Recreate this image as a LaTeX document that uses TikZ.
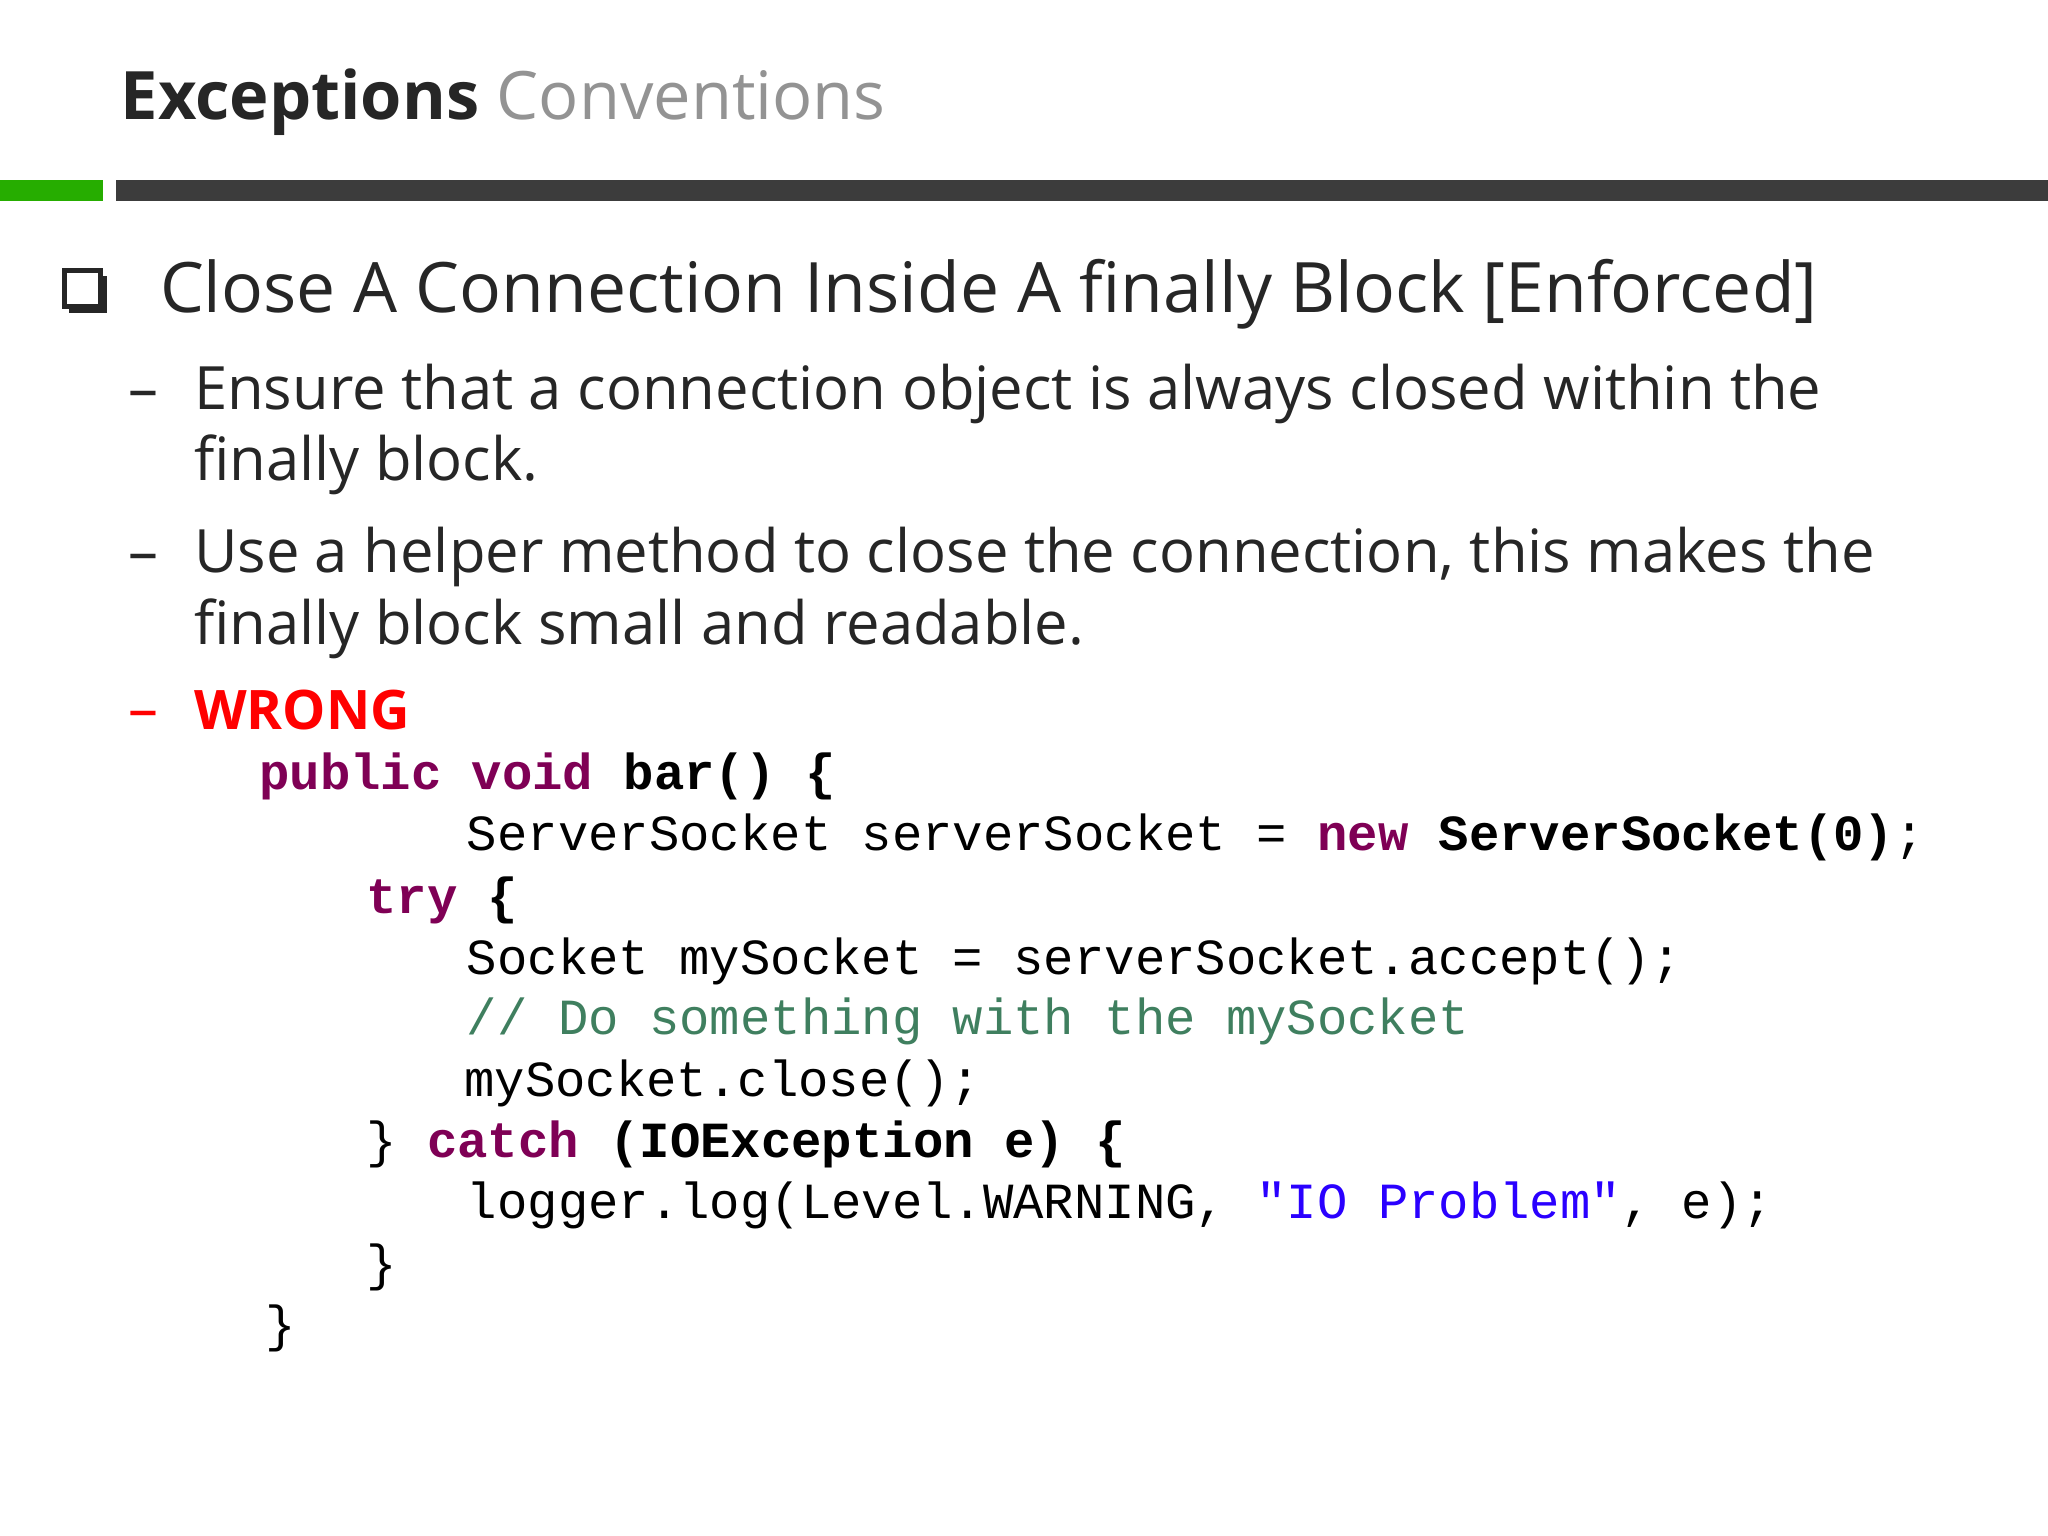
\documentclass[tikz,border=0pt]{standalone}
\usepackage{fontspec}
\setmainfont{Open Sans}
\newfontfamily\codef{Liberation Mono}
\definecolor{kw}{HTML}{7F0055}
\definecolor{cm}{HTML}{3F7F5F}
\definecolor{st}{HTML}{2A00FF}
\definecolor{tx}{HTML}{262626}
\begin{document}
\begin{tikzpicture}[x=0.013061cm,y=-0.013061cm,
  txt/.style={anchor=mid west,inner sep=0,text=tx},
  code/.style={anchor=mid west,inner sep=0,font=\codef\fontsize{14.4}{16}\selectfont,text=black},
  body/.style={txt,font=\fontsize{17}{20}\selectfont},
  dsh/.style={txt,font=\fontsize{17}{20}\selectfont}]
\useasboundingbox (0,0) rectangle (1568,1176);
\fill[white] (0,0) rectangle (1568,1176);
\node[txt,font=\fontsize{19}{22}\selectfont] (title) at (92,84) {\textbf{Exceptions} \textcolor{gray!85}{Conventions}};
\fill[green!60!black!80!lime] (0,138) rectangle (79,154);
\fill[tx!90] (89,138) rectangle (1568,154);
\fill[tx] (53,211) rectangle (82,240);
\node[draw=tx,fill=white,line width=1.5pt,minimum size=0.36cm,inner sep=0] (box) at (63,221) {};
\node[txt,font=\fontsize{19.8}{24}\selectfont] (head) at (122,232) {Close A Connection Inside A finally Block [Enforced]};
\node[dsh] (d1) at (98,306) {–};
\node[body] (l1) at (148,306) {Ensure that a connection object is always closed within the};
\node[body] (l2) at (148,361) {finally block.};
\node[dsh] (d2) at (98,431) {–};
\node[body] (l3) at (148,431) {Use a helper method to close the connection, this makes the};
\node[body] (l4) at (148,486) {finally block small and readable.};
\node[dsh,text=red] (d3) at (98,551) {–};
\node[body,text=red,font=\fontsize{15.5}{20}\selectfont\bfseries] (w) at (148,551) {WRONG};
\node[code] (c1) at (198,597) {\textcolor{kw}{\textbf{public void}} \textbf{bar() \{}};
\node[code] (c2) at (357,644) {ServerSocket serverSocket = \textcolor{kw}{\textbf{new}} \textbf{ServerSocket(0)};};
\node[code] (c3) at (280,692) {\textcolor{kw}{\textbf{try}} \textbf{\{}};
\node[code] (c4) at (357,739) {Socket mySocket = serverSocket.accept();};
\node[code,text=cm] (c5) at (357,785) {// Do something with the mySocket};
\node[code] (c6) at (355,832) {mySocket.close();};
\node[code] (c7) at (280,879) {\} \textcolor{kw}{\textbf{catch}} \textbf{(IOException e) \{}};
\node[code] (c8) at (357,926) {logger.log(Level.WARNING, \textcolor{st}{"IO Problem"}, e);};
\node[code] (c9) at (280,973) {\}};
\node[code] (c10) at (203,1020) {\}};
\end{tikzpicture}
\end{document}
